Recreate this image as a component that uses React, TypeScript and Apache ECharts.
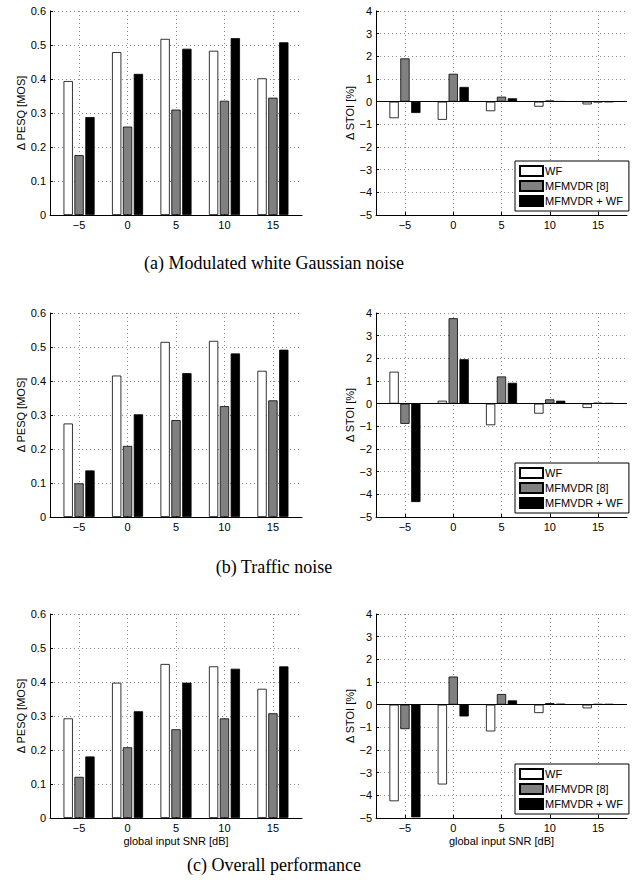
import React, { useEffect, useRef } from 'react';
import * as echarts from 'echarts';

// ---- data ----
const snr = [-5, 0, 5, 10, 15];
const seriesNames = ['WF', 'MFMVDR [8]', 'MFMVDR + WF'];
const captions = ['(a) Modulated white Gaussian noise', '(b) Traffic noise', '(c) Overall performance'];

// (a) modulated white Gaussian noise
const pesqA_WF = [0.394, 0.479, 0.518, 0.483, 0.402];
const pesqA_MF = [0.176, 0.26, 0.31, 0.336, 0.345];
const pesqA_MFWF = [0.288, 0.415, 0.489, 0.52, 0.508];
const stoiA_WF = [-0.73, -0.8, -0.42, -0.22, -0.12];
const stoiA_MF = [1.91, 1.23, 0.22, 0.05, -0.02];
const stoiA_MFWF = [-0.5, 0.65, 0.15, 0.02, -0.01];

// (b) traffic noise
const pesqB_WF = [0.275, 0.416, 0.515, 0.518, 0.43];
const pesqB_MF = [0.099, 0.209, 0.285, 0.326, 0.343];
const pesqB_MFWF = [0.137, 0.302, 0.423, 0.481, 0.492];
const stoiB_WF = [1.41, 0.13, -0.95, -0.44, -0.19];
const stoiB_MF = [-0.89, 3.77, 1.2, 0.19, 0.04];
const stoiB_MFWF = [-4.34, 1.96, 0.92, 0.13, 0.03];

// (c) overall performance
const pesqC_WF = [0.293, 0.398, 0.453, 0.446, 0.38];
const pesqC_MF = [0.121, 0.208, 0.261, 0.293, 0.308];
const pesqC_MFWF = [0.181, 0.314, 0.398, 0.439, 0.446];
const stoiC_WF = [-4.26, -3.52, -1.18, -0.37, -0.16];
const stoiC_MF = [-1.08, 1.24, 0.47, 0.07, 0.03];
const stoiC_MFWF = [-4.97, -0.52, 0.19, 0.04, 0.03];

const pesqRows = [
  [pesqA_WF, pesqA_MF, pesqA_MFWF],
  [pesqB_WF, pesqB_MF, pesqB_MFWF],
  [pesqC_WF, pesqC_MF, pesqC_MFWF],
];
const stoiRows = [
  [stoiA_WF, stoiA_MF, stoiA_MFWF],
  [stoiB_WF, stoiB_MF, stoiB_MFWF],
  [stoiC_WF, stoiC_MF, stoiC_MFWF],
];

// ---- layout / style ----
const rowTops = [11, 313, 614];
const rowH = 204;
const colLeft = [50, 376];
const colW = [252, 251];
const captionY = [263, 567, 865];
const barFill = ['#ffffff', '#808080', '#000000'];
const FONT = "'Liberation Sans', Arial, Helvetica, sans-serif";
const SERIF = "'Liberation Serif', 'Times New Roman', serif";
const dotted = () => ({ color: '#8c8c8c', width: 1, type: [1, 3] });

const minus = (v: number) => (v < 0 ? '\u2212' + Math.abs(v) : String(v));

export default function App() {
  const ref = useRef<HTMLDivElement>(null);

  useEffect(() => {
    document.body.style.margin = '0';
    if (!ref.current) return;
    const chart = echarts.init(ref.current, undefined, { renderer: 'svg' });

    const grid: any[] = [];
    const xAxis: any[] = [];
    const yAxis: any[] = [];
    const series: any[] = [];
    const legend: any[] = [];

    for (let r = 0; r < 3; r++) {
      for (let c = 0; c < 2; c++) {
        const gi = r * 2 + c;
        grid.push({ left: colLeft[c], top: rowTops[r], width: colW[c], height: rowH });
        xAxis.push({
          type: 'value',
          gridIndex: gi,
          min: -8,
          max: 18,
          name: r === 2 ? 'global input SNR [dB]' : '',
          nameLocation: 'middle',
          nameGap: 17,
          nameTextStyle: { fontFamily: FONT, fontSize: 11, color: '#000' },
          axisLine: { onZero: false, lineStyle: { color: '#000', width: 1 } },
          axisTick: { show: true, inside: true, length: 3, customValues: snr, lineStyle: { color: '#000' } },
          axisLabel: {
            customValues: snr,
            margin: 4,
            fontFamily: FONT,
            fontSize: 11,
            color: '#000',
            formatter: (v: number) => minus(v),
          },
          splitLine: { show: true, lineStyle: dotted() },
        });
        const isPesq = c === 0;
        yAxis.push({
          type: 'value',
          gridIndex: gi,
          min: isPesq ? 0 : -5,
          max: isPesq ? 0.6 : 4,
          interval: isPesq ? 0.1 : 1,
          name: isPesq ? '\u0394 PESQ [MOS]' : '\u0394 STOI [%]',
          nameLocation: 'middle',
          nameGap: isPesq ? 23 : 19,
          nameTextStyle: { fontFamily: FONT, fontSize: 11, color: '#000' },
          axisLine: { show: true, onZero: false, lineStyle: { color: '#000', width: 1 } },
          axisTick: { show: true, inside: true, length: 3, lineStyle: { color: '#000' } },
          axisLabel: {
            margin: 4,
            fontFamily: FONT,
            fontSize: 11,
            color: '#000',
            formatter: (v: number) => (isPesq ? (v === 0 ? '0' : v.toFixed(1)) : minus(Math.round(v))),
          },
          splitLine: { show: true, lineStyle: dotted() },
        });

        const rows = isPesq ? pesqRows[r] : stoiRows[r];
        rows.forEach((vals, si) => {
          const s: any = {
            type: 'bar',
            name: seriesNames[si],
            xAxisIndex: gi,
            yAxisIndex: gi,
            barWidth: 9.3,
            barGap: '17%',
            data: snr.map((x, k) => [x, vals[k]]),
            itemStyle: { color: barFill[si], borderColor: '#000', borderWidth: 0.8 },
            z: 3,
          };
          if (!isPesq && si === 2) {
            s.markLine = {
              silent: true,
              symbol: 'none',
              label: { show: false },
              lineStyle: { color: '#000', width: 1, type: 'solid' },
              data: [{ yAxis: 0 }],
            };
          }
          series.push(s);
        });

        if (!isPesq) {
          legend.push({
            orient: 'vertical',
            left: 515,
            top: rowTops[r] + 150,
            data: seriesNames,
            itemWidth: 23,
            itemHeight: 10,
            itemGap: 3,
            padding: [4, 6, 4, 4],
            backgroundColor: '#fff',
            borderColor: '#000',
            borderWidth: 1,
            borderRadius: 0,
            icon: 'rect',
            selectedMode: false,
            textStyle: { fontFamily: FONT, fontSize: 11, color: '#000', padding: [0, 0, 0, -3] },
          });
        }
      }
    }

    const graphic = captions.map((t, i) => ({
      type: 'text',
      x: 274,
      y: captionY[i],
      silent: true,
      style: {
        text: t,
        fontFamily: SERIF,
        fontSize: 18,
        fill: '#000',
        textAlign: 'center',
        textVerticalAlign: 'middle',
      },
    }));

    chart.setOption({
      animation: false,
      backgroundColor: '#fff',
      grid,
      xAxis,
      yAxis,
      series,
      legend,
      graphic,
    });

    return () => chart.dispose();
  }, []);

  return <div ref={ref} style={{ width: 633, height: 880 }} />;
}
